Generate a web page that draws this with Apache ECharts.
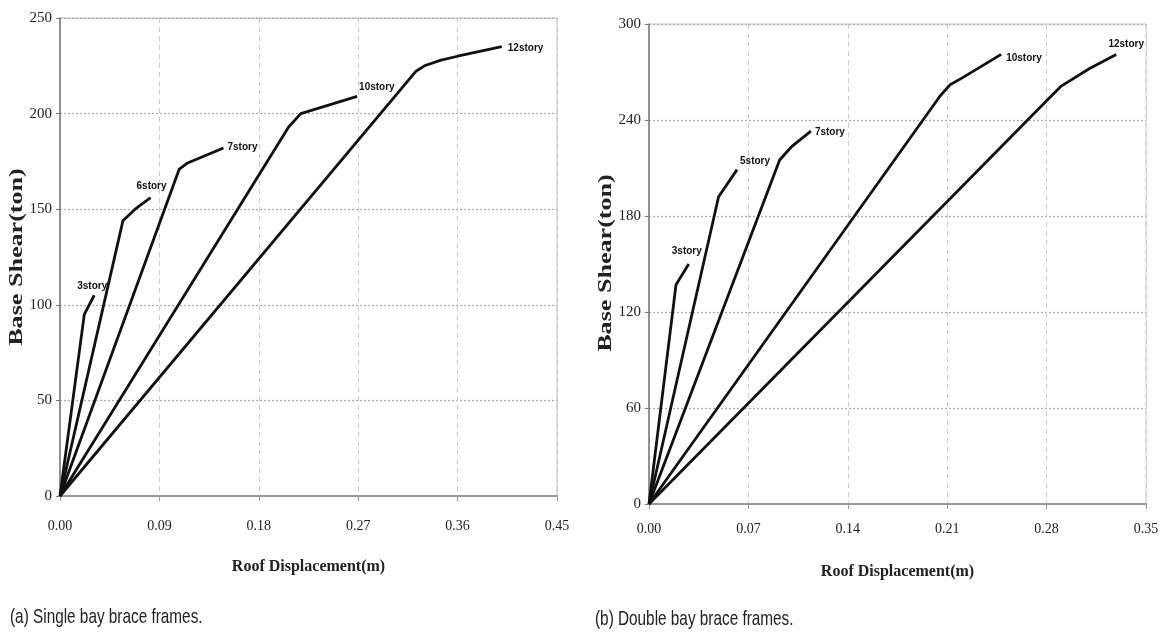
<!DOCTYPE html>
<html>
<head>
<meta charset="utf-8">
<script src="https://cdn.jsdelivr.net/npm/echarts@6/dist/echarts.min.js"></script>
<style>
  html, body { margin: 0; padding: 0; background: #fff; }
  #chart { width: 1164px; height: 632px; }
</style>
</head>
<body>
<div id="chart"></div>
<script>
// (a) single bay brace frames: [roof displacement (m), base shear (ton)]
let singleNames = ['3story', '6story', '7story', '10story', '12story'];
let single3 = [[0, 0], [0.022, 95], [0.031, 105]];
let single6 = [[0, 0], [0.057, 144], [0.068, 150], [0.082, 156]];
let single7 = [[0, 0], [0.108, 171], [0.115, 174], [0.148, 182]];
let single10 = [[0, 0], [0.207, 193], [0.218, 200], [0.269, 209]];
let single12 = [[0, 0], [0.322, 222], [0.33, 225], [0.345, 228], [0.36, 230], [0.4, 235]];

// (b) double bay brace frames
let doubleNames = ['3story', '5story', '7story', '10story', '12story'];
let double3 = [[0, 0], [0.019, 137], [0.028, 150]];
let double5 = [[0, 0], [0.049, 192], [0.062, 209]];
let double7 = [[0, 0], [0.092, 215], [0.1, 223], [0.114, 233]];
let double10 = [[0, 0], [0.205, 255], [0.212, 262], [0.22, 266], [0.248, 281]];
let double12 = [[0, 0], [0.28, 252], [0.29, 261], [0.31, 272], [0.329, 281]];

let singleX = { max: 0.45, interval: 0.09 };
let singleY = { max: 250, interval: 50 };
let doubleX = { max: 0.35, interval: 0.07 };
let doubleY = { max: 300, interval: 60 };

let captions = ['(a) Single bay brace frames.', '(b) Double bay brace frames.'];
let xName = 'Roof Displacement(m)';
let yName = 'Base Shear(ton)';

// where each end label sits relative to the last point
let singleLabelPos = [
    { position: 'top', distance: 4, offset: [-2, 0] },
    { position: 'top', distance: 6, offset: [1, 0] },
    { position: 'right', distance: 4, offset: [0, -1] },
    { position: 'right', distance: 2, offset: [0, -9] },
    { position: 'right', distance: 6, offset: [0, 2] }
];
let doubleLabelPos = [
    { position: 'top', distance: 8, offset: [-2, 0] },
    { position: 'right', distance: 3, offset: [0, -8] },
    { position: 'right', distance: 4, offset: [0, 1] },
    { position: 'right', distance: 5, offset: [0, 4] },
    { position: 'top', distance: 5, offset: [10, 0] }
];

let serif = '"Liberation Serif", "Times New Roman", serif';
let sans = '"Liberation Sans", Arial, sans-serif';

function makeSeries(name, pts, idx, pos) {
    let last = pts.length - 1;
    return {
        name: name,
        type: 'line',
        xAxisIndex: idx,
        yAxisIndex: idx,
        showSymbol: true,
        symbol: 'circle',
        symbolSize: 0,
        itemStyle: { color: '#111' },
        label: { show: false },
        lineStyle: { color: '#111', width: 2.8 },
        data: pts.map((p, i) => i === last ? {
            value: p,
            label: {
                show: true,
                formatter: name,
                position: pos.position,
                distance: pos.distance,
                offset: pos.offset,
                color: '#111',
                fontFamily: sans,
                fontWeight: 'bold',
                fontSize: 10
            }
        } : p),
        z: 3
    };
}

function makeX(idx, cfg, labelMargin, nameGap) {
    return {
        type: 'value',
        gridIndex: idx,
        min: 0,
        max: cfg.max,
        interval: cfg.interval,
        name: xName,
        nameLocation: 'middle',
        nameGap: nameGap,
        nameTextStyle: { fontFamily: serif, fontWeight: 'bold', fontSize: 16, color: '#222' },
        axisLine: { lineStyle: { color: '#999', width: 2 } },
        axisTick: { show: true, length: 5, lineStyle: { color: '#999' } },
        axisLabel: {
            margin: labelMargin,
            fontFamily: serif,
            fontSize: 14,
            color: '#222',
            formatter: v => v.toFixed(2)
        },
        splitLine: { show: true, lineStyle: { color: '#ccc', type: [5, 4], width: 1 } }
    };
}

function makeY(idx, cfg) {
    return {
        type: 'value',
        gridIndex: idx,
        min: 0,
        max: cfg.max,
        interval: cfg.interval,
        axisLine: { show: true, lineStyle: { color: '#777', width: 1.5 } },
        axisTick: { show: true, length: 4, lineStyle: { color: '#777' } },
        axisLabel: { margin: 8, fontFamily: serif, fontSize: 15, color: '#222' },
        splitLine: { show: true, lineStyle: { color: '#aaa', type: [2, 2], width: 1.2 } }
    };
}

let series = [];
[single3, single6, single7, single10, single12].forEach((d, i) => {
    series.push(makeSeries(singleNames[i], d, 0, singleLabelPos[i]));
});
[double3, double5, double7, double10, double12].forEach((d, i) => {
    series.push(makeSeries(doubleNames[i], d, 1, doubleLabelPos[i]));
});

// condensed caption and stretched vertical axis titles, as in the scanned figure
function captionText(text, x, y) {
    return {
        type: 'text', x: x, y: y, scaleX: 0.73,
        style: { text: text, fontFamily: sans, fontSize: 21, fill: '#222', align: 'left', verticalAlign: 'middle' }
    };
}
function yTitle(x, y) {
    return {
        type: 'text', x: x, y: y, rotation: Math.PI / 2, scaleX: 1.45,
        style: { text: yName, fontFamily: serif, fontWeight: 'bold', fontSize: 18, fill: '#222', align: 'center', verticalAlign: 'middle' }
    };
}

let option = {
    animation: false,
    backgroundColor: '#fff',
    grid: [
        { left: 60, top: 18, width: 497, height: 478, show: true, borderColor: '#bbb', borderWidth: 1 },
        { left: 649, top: 24, width: 497, height: 480, show: true, borderColor: '#ccc', borderWidth: 1 }
    ],
    xAxis: [makeX(0, singleX, 23, 63), makeX(1, doubleX, 18, 60)],
    yAxis: [makeY(0, singleY), makeY(1, doubleY)],
    graphic: [
        yTitle(17, 257),
        yTitle(606, 263),
        captionText(captions[0], 10, 617),
        captionText(captions[1], 595, 619)
    ],
    series: series
};

let chart = echarts.init(document.getElementById('chart'));
chart.setOption(option);
</script>
</body>
</html>
